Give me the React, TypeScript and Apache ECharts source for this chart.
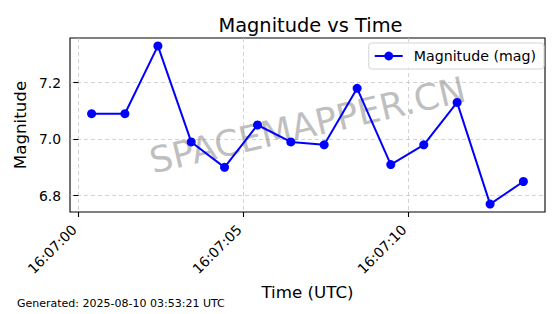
import React, { useEffect, useRef } from "react";
import * as echarts from "echarts";

const timestamps = [
  "16:07:00.40", "16:07:01.41", "16:07:02.41", "16:07:03.42", "16:07:04.43",
  "16:07:05.43", "16:07:06.44", "16:07:07.45", "16:07:08.45", "16:07:09.47",
  "16:07:10.47", "16:07:11.48", "16:07:12.48", "16:07:13.49",
];
const magnitudes = [7.09, 7.09, 7.33, 6.99, 6.9, 7.05, 6.99, 6.98, 7.18, 6.91, 6.98, 7.13, 6.77, 6.85];
const xTickSeconds = [0, 5, 10];
const yTicks = [6.8, 7.0, 7.2];
const seriesName = "Magnitude (mag)";
const titleText = "Magnitude vs Time";
const footerText = "Generated: 2025-08-10 03:53:21 UTC";
const watermarkText = "SPACEMAPPER.CN";

const BASE = "16:07:";
const toSeconds = (t: string) => {
  const [h, m, s] = t.split(":").map(Number);
  return (h - 16) * 3600 + (m - 7) * 60 + s;
};
const fmtTime = (sec: number) => {
  const s = Math.round(sec);
  return BASE + String(s).padStart(2, "0");
};

const FONT = "DejaVu Sans";

export default function App() {
  const ref = useRef<HTMLDivElement>(null);
  useEffect(() => {
    if (!ref.current) return;
    const chart = echarts.init(ref.current, undefined, { renderer: "svg" });
    const xs = timestamps.map(toSeconds);
    const xMinD = Math.min(...xs), xMaxD = Math.max(...xs);
    const yMinD = Math.min(...magnitudes), yMaxD = Math.max(...magnitudes);
    const xm = (xMaxD - xMinD) * 0.05, ym = (yMaxD - yMinD) * 0.05;
    const data = xs.map((x, i) => [x, magnitudes[i]]);
    chart.setOption({
      animation: false,
      textStyle: { fontFamily: FONT },
      title: {
        text: titleText,
        left: 305.5,
        top: 11,
        textAlign: "center",
        textStyle: { fontFamily: FONT, fontSize: 19.4, fontWeight: "normal", color: "#000" },
      },
      grid: {
        left: 70, right: 15, top: 38, bottom: 102,
        show: true, borderColor: "#000", borderWidth: 1.1, backgroundColor: "transparent",
      },
      legend: {
        right: 16, top: 43,
        data: [seriesName],
        itemWidth: 28, itemHeight: 11, padding: [6, 8, 6, 5], itemGap: 8,
        backgroundColor: "rgba(255,255,255,0.8)", borderColor: "#d5d5d5", borderWidth: 1, borderRadius: 3,
        textStyle: { fontFamily: FONT, fontSize: 14.2, color: "#000", padding: [0, 0, 0, 6] },
      },
      xAxis: {
        type: "value",
        min: xMinD - xm, max: xMaxD + xm,
        name: "Time (UTC)", nameLocation: "middle", nameGap: 68,
        nameTextStyle: { fontFamily: FONT, fontSize: 16.7, color: "#000" },
        axisLine: { show: false },
        axisTick: { show: true, inside: false, length: 5, customValues: xTickSeconds, lineStyle: { color: "#000", width: 1.1 } },
        axisLabel: {
          customValues: xTickSeconds, rotate: 45, margin: 11,
          padding: [0, 6, 0, 0],
          formatter: (v: number) => fmtTime(v),
          fontFamily: FONT, fontSize: 13.9, color: "#000",
        },
        splitLine: { show: true, lineStyle: { color: "#c8c8c8", type: [4, 3], width: 0.8 } },
      },
      yAxis: {
        type: "value",
        min: yMinD - ym, max: yMaxD + ym,
        name: "Magnitude", nameLocation: "middle", nameGap: 36,
        nameTextStyle: { fontFamily: FONT, fontSize: 16.7, color: "#000" },
        axisLine: { show: false },
        axisTick: { show: true, inside: false, length: 5, customValues: yTicks, lineStyle: { color: "#000", width: 1.1 } },
        axisLabel: {
          customValues: yTicks, margin: 9,
          formatter: (v: number) => v.toFixed(1),
          fontFamily: FONT, fontSize: 13.9, color: "#000",
        },
        splitLine: { show: true, lineStyle: { color: "#c8c8c8", type: [4, 3], width: 0.8 } },
      },
      graphic: [
        {
          type: "text",
          x: 307.5, y: 125,
          rotation: (13 * Math.PI) / 180,
          z: 1,
          style: {
            text: watermarkText,
            fontFamily: FONT, fontSize: 36,
            fill: "rgba(128,128,128,0.5)",
            textAlign: "center", textVerticalAlign: "middle",
          },
        },
        {
          type: "text",
          left: 17, top: 298,
          style: { text: footerText, fontFamily: FONT, fontSize: 11, fill: "#000" },
        },
      ],
      series: [
        {
          name: seriesName,
          type: "line",
          data,
          z: 3,
          symbol: "circle",
          symbolSize: 9,
          showAllSymbol: true,
          itemStyle: { color: "#0000ff" },
          lineStyle: { color: "#0000ff", width: 2 },
        },
      ],
    });
    return () => chart.dispose();
  }, []);
  return (
    <div
      ref={ref}
      style={{ position: "fixed", left: 0, top: 0, width: 560, height: 314, background: "#fff" }}
    />
  );
}
